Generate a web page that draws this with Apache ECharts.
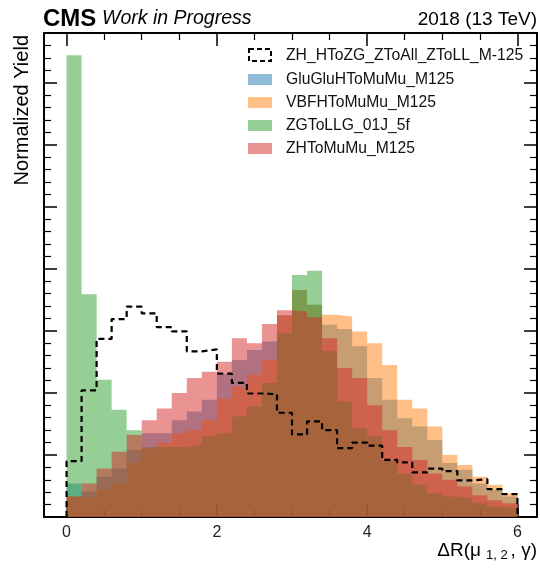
<!DOCTYPE html>
<html>
<head>
<meta charset="utf-8">
<script src="https://cdn.jsdelivr.net/npm/echarts@6/dist/echarts.min.js"></script>
<style>
  html, body { margin: 0; padding: 0; background: #fff; }
  #chart { width: 540px; height: 569px; }
</style>
</head>
<body>
<div id="chart"></div>
<script>
// bin edges of the DeltaR histogram (30 bins of 0.2)
const binEdges = [0, 0.2, 0.4, 0.6, 0.8, 1.0, 1.2, 1.4, 1.6, 1.8, 2.0, 2.2, 2.4, 2.6, 2.8, 3.0,
  3.2, 3.4, 3.6, 3.8, 4.0, 4.2, 4.4, 4.6, 4.8, 5.0, 5.2, 5.4, 5.6, 5.8, 6.0]

// normalized yields per bin
const zhToZG = [0.90, 2.04, 2.87, 3.19, 3.39, 3.28, 3.06, 2.99, 2.67, 2.70, 2.31, 2.16, 1.99, 1.98, 1.68,
  1.33, 1.54, 1.40, 1.11, 1.20, 1.15, 0.92, 0.88, 0.72, 0.78, 0.74, 0.59, 0.61, 0.45, 0.37]
const ggH = [0.54, 0.41, 0.65, 0.78, 1.08, 1.35, 1.35, 1.56, 1.70, 1.89, 2.30, 2.53, 2.69, 2.83, 3.25,
  3.66, 3.42, 3.10, 3.03, 2.75, 2.24, 1.89, 1.59, 1.46, 1.24, 0.87, 0.76, 0.54, 0.44, 0.33]
const vbf = [0.33, 0.30, 0.44, 0.54, 0.87, 1.10, 1.20, 1.35, 1.40, 1.56, 1.90, 2.10, 2.29, 2.53, 3.25,
  3.66, 3.42, 3.26, 3.23, 2.99, 2.80, 2.45, 1.89, 1.75, 1.46, 1.00, 0.84, 0.65, 0.52, 0.38]
const zg = [7.44, 3.59, 2.21, 1.73, 1.40, 1.13, 1.13, 1.13, 1.16, 1.30, 1.35, 1.62, 1.78, 2.16, 2.96,
  3.90, 3.97, 2.67, 1.86, 1.43, 1.30, 0.92, 0.70, 0.52, 0.38, 0.33, 0.30, 0.22, 0.17, 0.14]
const zhMuMu = [0.33, 0.54, 0.78, 1.05, 1.32, 1.56, 1.75, 2.00, 2.24, 2.34, 2.50, 2.88, 2.80, 3.11, 3.33,
  3.31, 3.22, 2.88, 2.40, 2.24, 1.80, 1.40, 1.13, 0.92, 0.70, 0.60, 0.49, 0.35, 0.27, 0.22]

const xTicks = [0, 2, 4, 6]
const names = ['ZH_HToZG_ZToAll_ZToLL_M-125', 'GluGluHToMuMu_M125', 'VBFHToMuMu_M125', 'ZGToLLG_01J_5f', 'ZHToMuMu_M125']
const colors = ['#1f77b4', '#ff7f0e', '#2ca02c', '#d62728']

const FONT = '"Liberation Sans", Arial, Helvetica, sans-serif'

// step points for a histogram: left edge of each bin, plus closing point at the last edge
const stepPoints = (vals) => {
  const pts = vals.map((v, i) => [binEdges[i], v])
  pts.push([binEdges[binEdges.length - 1], vals[vals.length - 1]])
  return pts
}

const filledHist = (name, vals, color) => ({
  name,
  type: 'line',
  step: 'end',
  data: stepPoints(vals),
  showSymbol: false,
  silent: true,
  lineStyle: { width: 0, opacity: 0 },
  areaStyle: { color, opacity: 0.5 },
  animation: false
})

const chart = echarts.init(document.getElementById('chart'), null, { renderer: 'canvas' })

const xCommon = {
  type: 'value',
  min: -0.3,
  max: 6.26,
  splitNumber: 3,
  minInterval: 2,
  maxInterval: 2,
  splitLine: { show: false },
  axisLine: { show: true, onZero: false, lineStyle: { color: '#000', width: 2 } },
  axisTick: { show: true, inside: true, length: 13, lineStyle: { color: '#000', width: 1.5 } },
  minorTick: { show: true, splitNumber: 4, length: 7, lineStyle: { color: '#000', width: 1.2 } }
}
const yCommon = {
  type: 'value',
  min: 0,
  max: 7.8,
  interval: 1,
  splitLine: { show: false },
  axisLabel: { show: false },
  axisLine: { show: true, onZero: false, lineStyle: { color: '#000', width: 2 } },
  axisTick: { show: true, inside: true, length: 13, lineStyle: { color: '#000', width: 1.5 } },
  minorTick: { show: true, splitNumber: 5, length: 7, lineStyle: { color: '#000', width: 1.2 } }
}

// dashed step outline, closed down to zero at both ends
const dashedPts = [[binEdges[0], 0]].concat(stepPoints(zhToZG))
dashedPts.push([binEdges[binEdges.length - 1], 0])

const legendRows = [55, 79, 102, 125, 148]
const legendGraphics = []
legendRows.forEach((y, i) => {
  if (i === 0) {
    legendGraphics.push({
      type: 'rect', shape: { x: 249, y: y - 6, width: 22, height: 12 },
      style: { fill: 'none', stroke: '#000', lineWidth: 2, lineDash: [5, 3] }
    })
  } else {
    legendGraphics.push({
      type: 'rect', shape: { x: 248, y: y - 5, width: 24, height: 11 },
      style: { fill: colors[i - 1], opacity: 0.5 }
    })
  }
  legendGraphics.push({
    type: 'text', x: 286, y: y + 1,
    style: { text: names[i], fontFamily: FONT, fontSize: 15.7, fill: '#111', align: 'left', verticalAlign: 'middle' }
  })
})

const option = {
  animation: false,
  backgroundColor: '#fff',
  grid: { left: 44, right: 3, top: 33, bottom: 52 },
  xAxis: [
    Object.assign({}, xCommon, {
      position: 'bottom',
      axisLabel: {
        show: true, margin: 8, fontSize: 16, color: '#222', fontFamily: FONT,
        formatter: (v) => xTicks.includes(v) ? String(v) : ''
      }
    }),
    Object.assign({}, xCommon, { position: 'top', axisLabel: { show: false } })
  ],
  yAxis: [
    Object.assign({}, yCommon, { position: 'left' }),
    Object.assign({}, yCommon, { position: 'right' })
  ],
  series: [
    filledHist(names[1], ggH, colors[0]),
    filledHist(names[2], vbf, colors[1]),
    filledHist(names[3], zg, colors[2]),
    filledHist(names[4], zhMuMu, colors[3]),
    {
      name: names[0],
      type: 'line',
      step: 'end',
      data: dashedPts,
      showSymbol: false,
      silent: true,
      lineStyle: { color: '#000', width: 2.2, type: [6, 4] },
      z: 5
    }
  ],
  graphic: [
    { type: 'text', x: 43, y: 19, style: { text: 'CMS', fontFamily: FONT, fontWeight: 'bold', fontSize: 24, fill: '#000', verticalAlign: 'middle' } },
    { type: 'text', x: 102, y: 19, style: { text: 'Work in Progress', fontFamily: FONT, fontStyle: 'italic', fontSize: 19.5, fill: '#000', verticalAlign: 'middle' } },
    { type: 'text', x: 537, y: 19.5, style: { text: '2018 (13 TeV)', fontFamily: FONT, fontSize: 19, fill: '#000', align: 'right', verticalAlign: 'middle' } },
    { type: 'text', x: 22, y: 35, rotation: Math.PI / 2,
      style: { text: 'Normalized Yield', fontFamily: FONT, fontSize: 20, fill: '#000', align: 'right', verticalAlign: 'middle' } },
    { type: 'text', x: 537, y: 551,
      style: {
        text: '{a|ΔR(μ}{s|1, 2}{a|, γ)}', align: 'right', verticalAlign: 'middle',
        rich: {
          a: { fontFamily: FONT, fontSize: 19, fill: '#000', lineHeight: 22 },
          s: { fontFamily: FONT, fontSize: 13, fill: '#000', padding: [8, 3, 0, 5], lineHeight: 22 }
        }
      }
    }
  ].concat(legendGraphics)
}

chart.setOption(option)
</script>
</body>
</html>
